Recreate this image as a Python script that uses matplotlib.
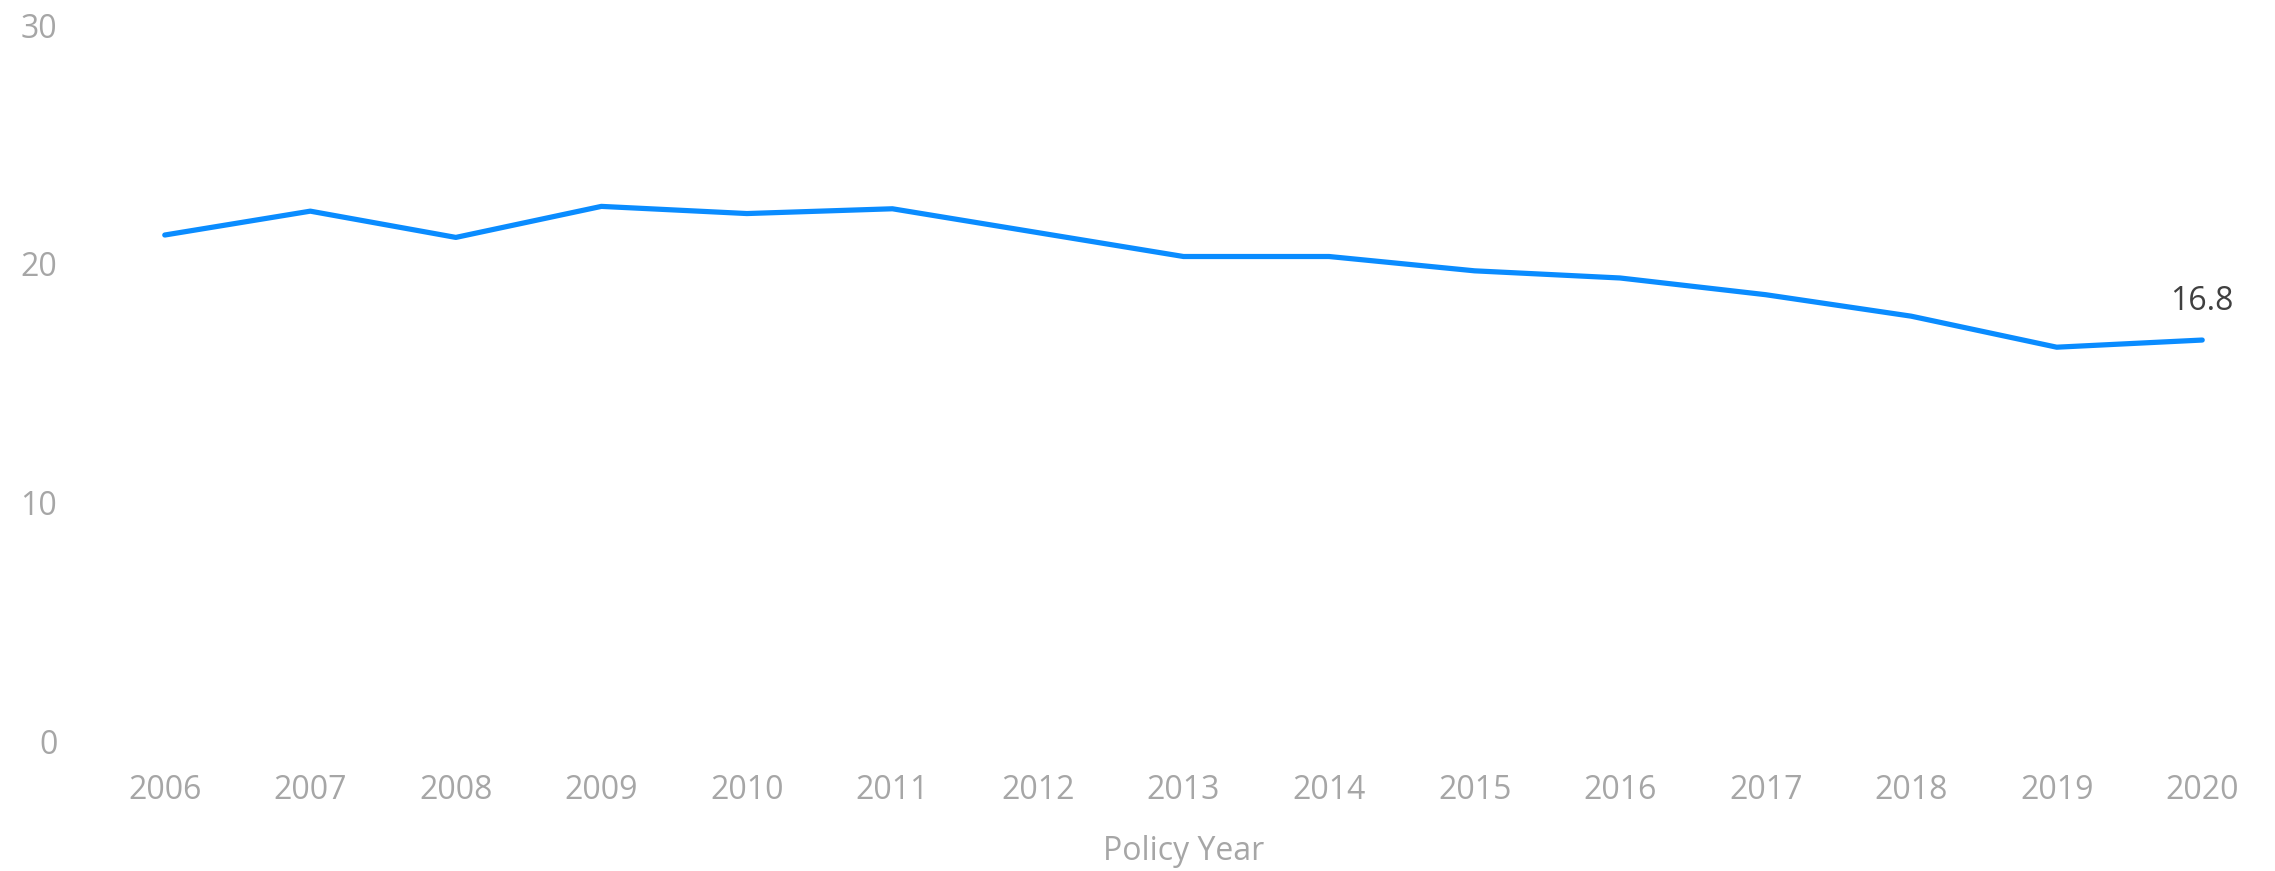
import matplotlib
matplotlib.use("Agg")
import matplotlib.pyplot as plt

# values
years = [2006, 2007, 2008, 2009, 2010, 2011, 2012, 2013,
         2014, 2015, 2016, 2017, 2018, 2019, 2020]
values = [21.2, 22.2, 21.1, 22.4, 22.1, 22.3, 21.3, 20.3,
          20.3, 19.7, 19.4, 18.7, 17.8, 16.5, 16.8]
y_ticks = [0, 10, 20, 30]
last_label = "16.8"

plt.rcParams['font.family'] = ['Open Sans', 'DejaVu Sans']

fig = plt.figure(figsize=(22.75, 8.71), dpi=100)
ax = fig.add_axes([92 / 2275, 130 / 871, (2275 - 92) / 2275, 716 / 871])

ax.plot(years, values, color='#0A8CFF', linewidth=3.75, solid_capstyle='round')

# label on the last point
ax.annotate(last_label, (years[-1], values[-1]), xytext=(0, 28),
            textcoords='offset points', ha='center', va='center',
            fontsize=23, color='#404040')

ax.set_xlim(years[0] - 0.5, years[-1] + 0.5)
ax.set_ylim(0, 30)
ax.set_xticks(years)
ax.set_xticklabels([str(y) for y in years])
ax.set_yticks(y_ticks)

for s in ax.spines.values():
    s.set_visible(False)
ax.tick_params(axis='both', length=0, labelsize=23, labelcolor='#A6A6A6')
ax.tick_params(axis='y', pad=25)
ax.tick_params(axis='x', pad=24)

ax.set_xlabel('Policy Year', fontsize=23, color='#A6A6A6', labelpad=20)

fig.savefig('out.png', dpi=100)
